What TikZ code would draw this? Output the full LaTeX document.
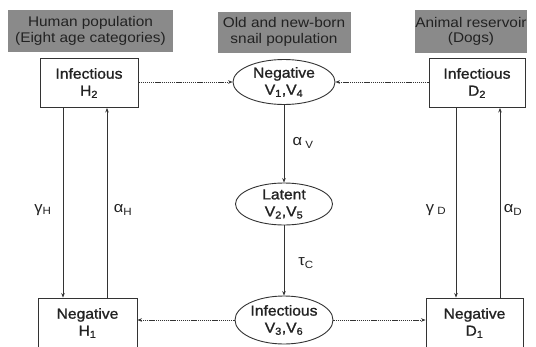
\documentclass[tikz,border=0pt]{standalone}
\usepackage{fontspec}
\setmainfont{Liberation Sans}[FakeStretch=1.1]
\newfontfamily\nodefont{Liberation Sans}[FakeStretch=1.08,FakeBold=1.2]
\usetikzlibrary{shapes.geometric,arrows.meta}
\definecolor{hdrgray}{HTML}{8A8A8A}
\definecolor{inkc}{HTML}{222222}
\definecolor{linec}{HTML}{333333}
\tikzset{
  hdr/.style={draw=none,fill=hdrgray,text=inkc,align=center,inner sep=0pt,
    font=\fontsize{14}{15.5}\selectfont},
  boxn/.style={draw=linec,line width=0.9pt,fill=white,align=center,inner sep=0pt,
    text=inkc,font=\nodefont\fontsize{14.5}{17}\selectfont},
  elln/.style={ellipse,draw=linec,line width=0.9pt,fill=white,align=center,inner sep=0pt,
    text=inkc,font=\nodefont\fontsize{14.5}{17}\selectfont},
  arr/.style={draw=linec,line width=0.8pt,-{Stealth[length=4.5pt,width=3.5pt]}},
  dotarr/.style={draw=linec,line width=0.9pt,dash pattern=on 1.3pt off 0.8pt,
    -{Stealth[length=4.5pt,width=3.5pt,sep=0pt]}},
  lbl/.style={text=inkc,inner sep=0pt,font=\fontsize{15}{16}\selectfont}
}
\begin{document}
\begin{tikzpicture}[x=1pt,y=-1pt]
\useasboundingbox (0,0) rectangle (536,346);
\fill[white] (0,0) rectangle (536,346);
% headers
\node[hdr,minimum width=165pt,minimum height=42pt] (hH) at (90.5,31) {Human population\\(Eight age categories)};
\node[hdr,minimum width=133pt,minimum height=41pt] (hV) at (284,32) {Old and new-born\\snail population};
\node[hdr,minimum width=111pt,minimum height=43pt] (hD) at (471,31.5) {Animal reservoir\\(Dogs)};
% boxes
\node[boxn,minimum width=98pt,minimum height=49pt] (H2) at (89,83) {Infectious\\H\textsubscript{2}};
\node[boxn,minimum width=96pt,minimum height=49pt] (D2) at (477,83) {Infectious\\D\textsubscript{2}};
\node[boxn,minimum width=99pt,minimum height=50pt] (H1) at (87.5,323) {Negative\\H\textsubscript{1}};
\node[boxn,minimum width=97pt,minimum height=50pt] (D1) at (474.5,323) {Negative\\D\textsubscript{1}};
% ellipses
\node[elln,minimum width=102pt,minimum height=45pt] (V1) at (284,82) {Negative\\V\textsubscript{1},V\textsubscript{4}};
\node[elln,minimum width=97pt,minimum height=42pt] (V2) at (284,204) {Latent\\V\textsubscript{2},V\textsubscript{5}};
\node[elln,minimum width=98pt,minimum height=48pt] (V3) at (284,320) {Infectious\\V\textsubscript{3},V\textsubscript{6}};
% x positions of vertical connectors
\coordinate (xgH) at (63,0);
\coordinate (xaH) at (107,0);
\coordinate (xgD) at (456,0);
\coordinate (xaD) at (500,0);
% vertical connectors
\draw[arr] (H2.south -| xgH) -- (H1.north -| xgH);
\draw[arr] (H1.north -| xaH) -- (H2.south -| xaH);
\draw[arr] (D2.south -| xgD) -- (D1.north -| xgD);
\draw[arr] (D1.north -| xaD) -- (D2.south -| xaD);
\draw[arr] (V1.south) -- (V2.north);
\draw[arr] (V2.south) -- (V3.north);
% dotted connectors
\draw[dotarr] (H2.east |- V1.west) -- (V1.west);
\draw[dotarr] (D2.west |- V1.east) -- (V1.east);
\draw[dotarr] (V3.west) -- (H1.east |- V3.west);
\draw[dotarr] (V3.east) -- (D1.west |- V3.east);
% labels
\node[lbl] (lgH) at (43,210) {γ\textsubscript{H}};
\node[lbl] (laH) at (123,210) {α\textsubscript{H}};
\node[lbl] (laV) at (303,143) {α\textsubscript{ V}};
\node[lbl] (ltC) at (306,263) {τ\textsubscript{C}};
\node[lbl] (lgD) at (436,210) {γ\textsubscript{ D}};
\node[lbl] (laD) at (513,210) {α\textsubscript{D}};
\end{tikzpicture}
\end{document}
